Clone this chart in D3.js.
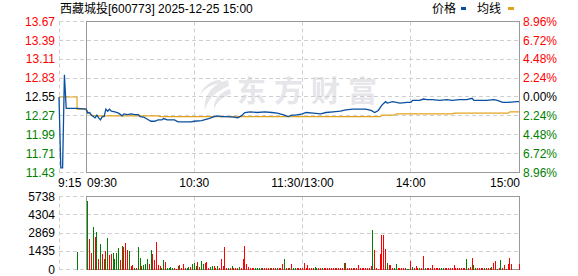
<!DOCTYPE html>
<html>
<head>
<meta charset="utf-8">
<script src="https://cdn.jsdelivr.net/npm/d3@7"></script>
<style>
  body { margin: 0; background: #fff; }
  text { font-family: "Liberation Sans", Arial, "Noto Sans CJK SC", sans-serif; font-size: 12px; }
</style>
</head>
<body>
<script>
// quote header
var stockName = "西藏城投[600773] 2025-12-25 15:00";
var prevClose = 12.55;

// axis ticks
var priceTicks = [13.67, 13.39, 13.11, 12.83, 12.55, 12.27, 11.99, 11.71, 11.43];
var pctTicks = ["8.96%", "6.72%", "4.48%", "2.24%", "0.00%", "2.24%", "4.48%", "6.72%", "8.96%"];
var volTicks = [5738, 4304, 2869, 1435, 0];
var timeLabels = ["9:15", "09:30", "10:30", "11:30/13:00", "14:00", "15:00"];

// price line
var priceTimes = ["09:15","09:16","09:17","09:18","09:19","09:25","09:30","09:31","09:32","09:33","09:34","09:35",
  "09:36","09:37","09:38","09:39","09:40","09:41","09:42","09:43","09:44","09:46","09:48","09:50","09:51","09:53",
  "09:55","09:57","09:59","10:00","10:02","10:04","10:06","10:08","10:10","10:12","10:13","10:15","10:17","10:19",
  "10:21","10:25","10:28","10:30","10:34","10:38","10:41","10:43","10:45","10:48","10:52","10:54","10:56","10:58",
  "11:01","11:05","11:09","11:13","11:16","11:20","11:22","11:24","11:26","11:30","13:02","13:06","13:10","13:13",
  "13:17","13:21","13:24","13:28","13:32","13:35","13:38","13:40","13:42","13:44","13:46","13:47","13:50","13:54",
  "13:58","14:00","14:01","14:05","14:07","14:09","14:12","14:16","14:20","14:23","14:27","14:31","14:34","14:35",
  "14:38","14:42","14:46","14:48","14:51","14:54","14:59","15:00"];
var prices = [12.55,11.50,11.50,12.88,12.38,12.38,12.37,12.31,12.32,12.28,12.26,12.24,
  12.28,12.24,12.21,12.26,12.26,12.37,12.34,12.37,12.34,12.33,12.31,12.27,12.30,12.29,
  12.30,12.29,12.29,12.26,12.25,12.22,12.19,12.19,12.21,12.21,12.23,12.21,12.21,12.21,
  12.18,12.18,12.18,12.19,12.20,12.23,12.26,12.27,12.26,12.26,12.25,12.24,12.27,12.32,
  12.33,12.32,12.33,12.32,12.31,12.28,12.26,12.28,12.28,12.30,12.32,12.31,12.30,12.32,
  12.33,12.34,12.36,12.37,12.37,12.37,12.35,12.32,12.35,12.43,12.48,12.46,12.48,12.46,
  12.47,12.47,12.50,12.50,12.52,12.51,12.51,12.50,12.51,12.50,12.51,12.51,12.53,12.50,
  12.50,12.50,12.51,12.50,12.47,12.47,12.48,12.48];

// average line
var avgTimes = ["09:15","09:25","09:25","09:30","09:31","09:33","09:35","10:10","10:11","13:43","13:44",
  "13:51","13:52","14:23","14:24","14:54","14:55","15:00"];
var avgPrices = [12.55,12.55,12.37,12.37,12.33,12.28,12.27,12.27,12.26,12.26,12.28,
  12.28,12.30,12.30,12.31,12.31,12.33,12.33];

// auction volume at 09:25
var auctionVol = 1350, auctionDir = "g";

// minute volumes 09:31..11:30 then 13:01..15:00
var volumes = [
  5390,2390,1330,3320,2520,2920,800,1990,1195,800,1460,2470,1140,1250,1330,800,1330,1670,720,1860,
  1780,2045,1510,1460,265,345,130,80,1730,875,265,320,400,800,400,1510,1250,720,2125,345,
  265,80,720,560,130,130,185,130,80,60,240,345,130,400,80,130,185,185,400,530,
  290,610,185,640,450,505,560,130,185,240,240,130,290,130,800,240,1750,80,80,130,
  240,80,80,130,185,80,800,1830,400,185,80,80,80,80,80,80,80,80,80,80,
  80,80,80,80,80,80,80,80,470,790,80,150,80,400,80,80,80,80,80,80,
  550,80,393,80,80,80,235,80,80,80,157,80,80,80,80,80,80,157,80,80,
  80,80,550,550,80,80,80,80,80,80,315,157,80,80,80,80,80,260,3140,1570,
  80,40,1180,2750,2750,1650,550,340,340,80,157,420,80,80,80,80,80,50,40,680,
  235,80,260,80,80,157,1100,80,80,80,80,315,80,80,120,80,80,157,80,80,
  80,157,80,393,80,80,80,80,80,80,790,80,200,865,315,80,157,80,80,80,
  157,80,80,80,235,550,640,50,80,710,80,340,50,420,943,420,0,0,0,470];
var volDirs = (
  "grrgrgrgrgrgrrggggrg" +
  "rrrgrrgrggrgggrgrrrr" +
  "rggrggggrrgrrrrggrgg" +
  "grrggrrrggrrgrrrrrgr" +
  "grrrgrrrrrrrrggggrrr" +
  "rgrrrgrrrgrrgrggrrrr" +
  "rrrrrrggrrgrrrrrrrrr" +
  "rrrgrrrrrrrrrrrrrrgr" +
  "rrrrrrgrrrggrrrrrggr" +
  "grrrgrrgrrrrrrrrggrr" +
  "rrrrrrrrrrgrrrggrrrr" +
  "grrrgrrgrgrrgrrrrrrr").split("");

var W = 578, H = 276;
var x0 = 59, x1 = 519;      // 9:15 .. 15:00
var xOpen = 86;             // 09:30 frame edge
var pTop = 21.5, pBot = 172.5;
var vTop = 196.5, vBot = 269.5;

var red = "#ff0000", green = "#008000", gridColor = "#cfcfcf", frameColor = "#999";
var blue = "#0a4fa0", orange = "#e2a31c";

// minutes since 9:15, lunch break folded
function minuteIndex(t) {
  var p = t.split(":"), m = +p[0] * 60 + +p[1];
  if (m >= 13 * 60) return 135 + (m - 13 * 60);
  return m - (9 * 60 + 15);
}

var xScale = d3.scaleLinear().domain([0, 255]).range([x0, x1]);
var yPrice = d3.scaleLinear().domain([11.43, 13.67]).range([pBot, pTop]);
var yVol = d3.scaleLinear().domain([0, 5738]).range([vBot, vTop]);

var svg = d3.select("body").append("svg")
  .attr("width", W).attr("height", H);

svg.append("rect").attr("width", W).attr("height", H).attr("fill", "#fff");

function crisp(v) { return Math.floor(v) + 0.5; }

// watermark
var wm = svg.append("g").attr("fill", "#e5e5ea");
wm.append("path")
  .attr("d", "M228,80 C214,83 203,95 205,110 C208,100 214,92 229,86 Z M230,89 C220,92 213,100 214,109 C217,102 222,97 231,94 Z M220,80 C212,80 203,86 200,95 C205,88 212,84 222,83 Z");
wm.append("text")
  .attr("x", 237).attr("y", 102)
  .style("font-family", "'Noto Sans CJK SC'")
  .style("font-size", "29px")
  .style("font-weight", "bold")
  .attr("letter-spacing", 8)
  .text("东方财富");

// grids
var minuteGrid = ["10:30", "11:30", "14:00"];

function drawGrid(yTicks, yScale, top, bot) {
  var g = svg.append("g")
    .attr("stroke", gridColor).attr("stroke-dasharray", "4,3").attr("fill", "none");
  g.selectAll("line.h").data(yTicks).enter().append("line")
    .attr("x1", x0).attr("x2", x1)
    .attr("y1", d => crisp(yScale(d))).attr("y2", d => crisp(yScale(d)));
  g.selectAll("line.v").data(minuteGrid).enter().append("line")
    .attr("x1", d => crisp(xScale(minuteIndex(d)))).attr("x2", d => crisp(xScale(minuteIndex(d))))
    .attr("y1", top).attr("y2", bot);
  g.append("line").attr("x1", x0 + 0.5).attr("x2", x0 + 0.5).attr("y1", top).attr("y2", bot);
  svg.append("rect")
    .attr("x", crisp(xOpen)).attr("y", crisp(top))
    .attr("width", Math.floor(x1) - Math.floor(xOpen)).attr("height", Math.floor(bot) - Math.floor(top))
    .attr("fill", "none").attr("stroke", frameColor);
}

drawGrid(priceTicks, yPrice, pTop, pBot);
drawGrid(volTicks, yVol, vTop, vBot);

// price labels
function tickColor(i, mid) { return i < mid ? red : (i === mid ? "#000" : green); }

svg.append("g").selectAll("text").data(priceTicks).enter().append("text")
  .attr("x", 55).attr("y", d => yPrice(d)).attr("dy", "0.35em")
  .attr("text-anchor", "end")
  .attr("fill", (d, i) => tickColor(i, 4))
  .text(d => d.toFixed(2));

svg.append("g").selectAll("text").data(pctTicks).enter().append("text")
  .attr("x", 523).attr("y", (d, i) => yPrice(priceTicks[i])).attr("dy", "0.35em")
  .attr("fill", (d, i) => tickColor(i, 4))
  .text(d => d);

svg.append("g").selectAll("text").data(volTicks).enter().append("text")
  .attr("x", 55).attr("y", d => yVol(d)).attr("dy", "0.35em")
  .attr("text-anchor", "end").attr("fill", "#000")
  .text(d => d);

// time labels
var tl = svg.append("g");
tl.selectAll("text").data(timeLabels).enter().append("text")
  .attr("x", (d, i) => {
    if (i === 0) return x0 - 1;
    if (i === 1) return xOpen + 1;
    if (i === timeLabels.length - 1) return x1 + 1;
    return xScale(minuteIndex(d.split("/")[0]));
  })
  .attr("y", 187)
  .attr("text-anchor", (d, i) => i < 2 ? "start" : (i === timeLabels.length - 1 ? "end" : "middle"))
  .attr("fill", "#000")
  .text(d => d);

// volume bars
var volMinutes = [];
for (var m = 16; m < 16 + volumes.length; m++) volMinutes.push(m);

var bars = volumes.map((v, i) => ({ m: volMinutes[i], v: v, dir: volDirs[i] }));
bars.push({ m: minuteIndex("09:25"), v: auctionVol, dir: auctionDir });

svg.append("g").selectAll("rect").data(bars.filter(d => d.v > 0)).enter().append("rect")
  .attr("x", d => Math.floor(xScale(d.m)))
  .attr("y", d => Math.round(yVol(d.v)))
  .attr("width", 1)
  .attr("height", d => Math.max(1, 270 - Math.round(yVol(d.v))))
  .attr("fill", d => d.dir === "r" ? red : green);

// price + average lines
var line = d3.line()
  .x(d => xScale(minuteIndex(d[0])))
  .y(d => yPrice(d[1]));

svg.append("path")
  .datum(avgTimes.map((t, i) => [t, avgPrices[i]]))
  .attr("d", line).attr("fill", "none")
  .attr("stroke", orange).attr("stroke-width", 1.2);

svg.append("path")
  .datum(priceTimes.map((t, i) => [t, prices[i]]))
  .attr("d", line).attr("fill", "none")
  .attr("stroke", blue).attr("stroke-width", 1.3);

// header
svg.append("text").attr("x", 60).attr("y", 13).attr("fill", "#000").text(stockName);

var legend = svg.append("g");
legend.append("text").attr("x", 432).attr("y", 13).attr("fill", "#000").text("价格");
legend.append("rect").attr("x", 461).attr("y", 7).attr("width", 5).attr("height", 3).attr("fill", blue);
legend.append("text").attr("x", 477).attr("y", 13).attr("fill", "#000").text("均线");
legend.append("rect").attr("x", 508).attr("y", 7).attr("width", 6).attr("height", 3).attr("fill", orange);
</script>
</body>
</html>
